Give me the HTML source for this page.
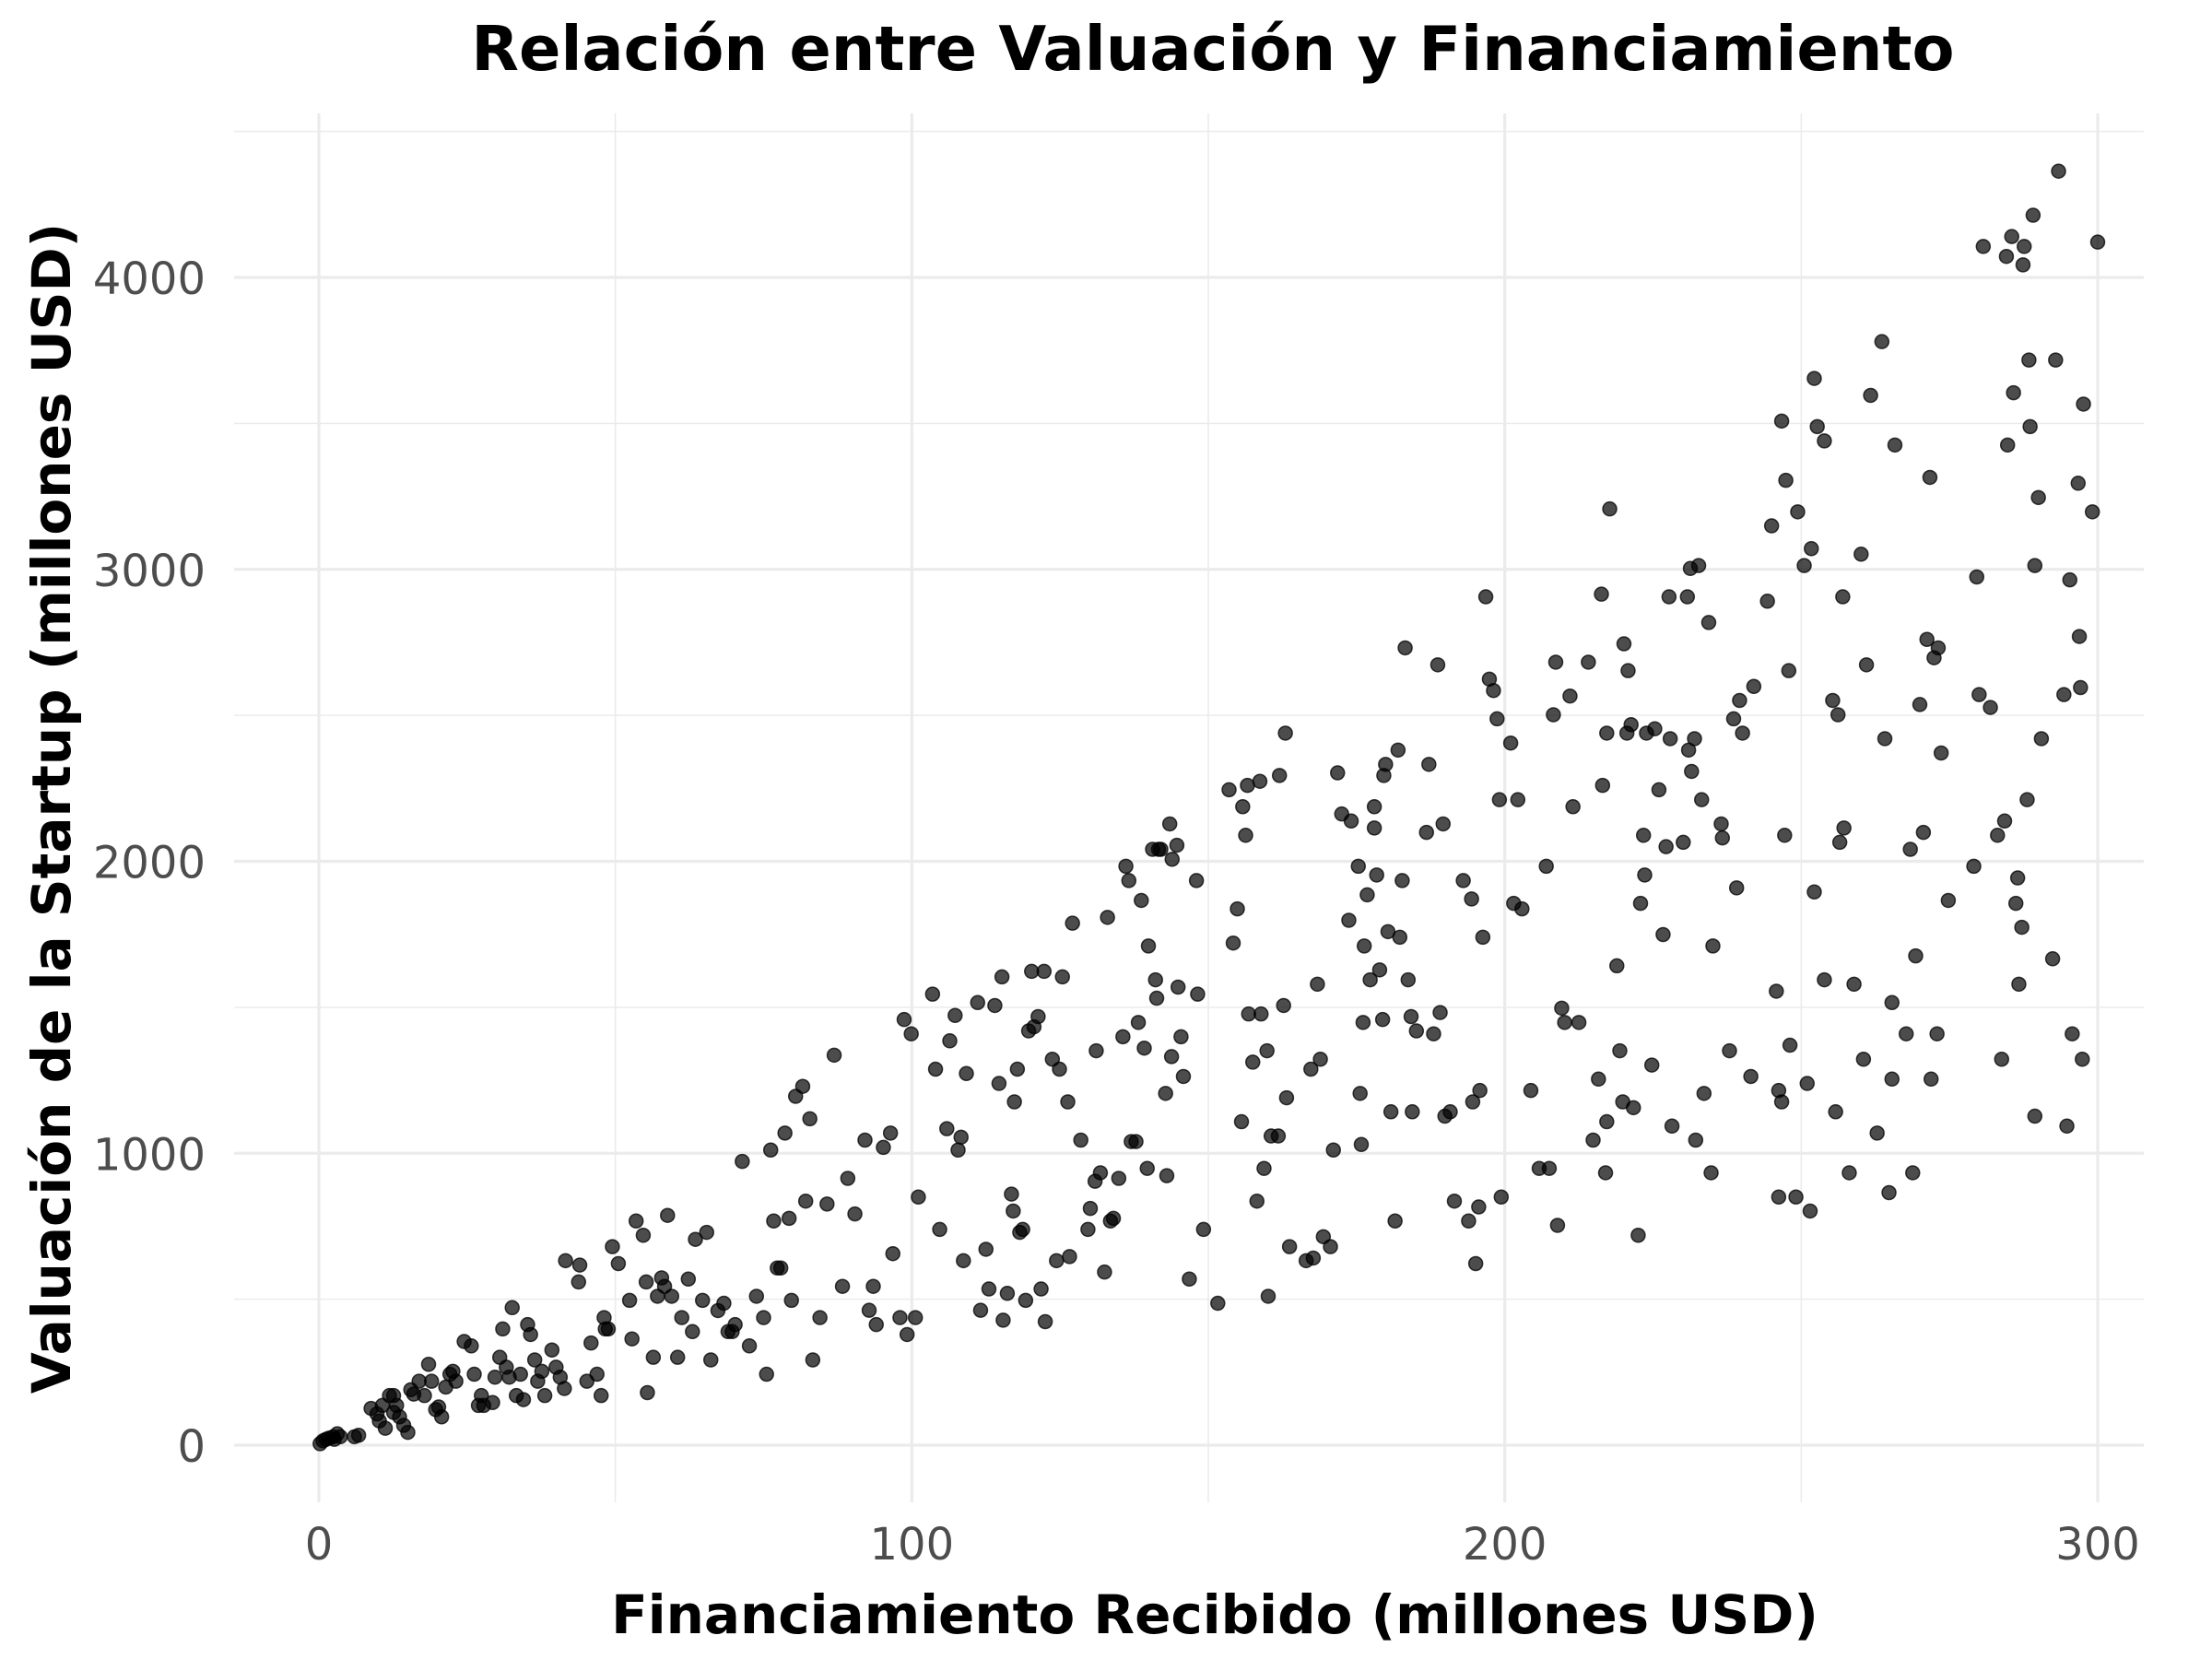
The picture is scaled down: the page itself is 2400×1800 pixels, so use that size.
<!DOCTYPE html>
<html><head><meta charset="utf-8"><style>
html,body{margin:0;padding:0;background:#fff;}
svg{display:block;font-family:"DejaVu Sans","Liberation Sans",sans-serif;}
</style></head><body>
<svg id="chart" width="2400" height="1800" viewBox="0 0 2400 1800" xmlns="http://www.w3.org/2000/svg">
<rect width="2400" height="1800" fill="#fff"/>
<g id="grid"></g>
<g id="points"></g>
<g id="ticks"></g>
<text x="1316" y="76" text-anchor="middle" font-size="67" font-weight="bold" fill="#000">Relación entre Valuación y Financiamiento</text>
<text x="1318" y="1772" text-anchor="middle" font-size="58" font-weight="bold" fill="#000">Financiamiento Recibido (millones USD)</text>
<text transform="translate(76,877) rotate(-90)" text-anchor="middle" font-size="58" font-weight="bold" fill="#000">Valuación de la Startup (millones USD)</text>
</svg>
<script>
const xTicks=[0,100,200,300];
const yTicks=[0,1000,2000,3000,4000];
const xTickLabels=["0","100","200","300"];
const yTickLabels=["0","1000","2000","3000","4000"];
const funding=[0.2,0.7,1.2,1.7,2.4,3.1,3.6,6,6.7,2.6,8.8,9.8,10.7,10.2,11.2,11.9,12.6,12.6,13.1,13.6,14.3,15.0,15.5,16.0,16.9,17.8,18.5,19.0,19.7,20.2,20.7,21.4,22.1,22.6,
23.1,24.5,25.7,26.2,26.9,27.4,27.8,29.3,29.7,30.5,31.0,31.6,32.1,32.6,33.3,34.0,34.5,35.2,35.7,36.4,36.9,37.6,38.1,39.3,40.0,40.7,41.4,
41.6,43.8,44.0,45.2,45.9,46.9,47.6,48.1,48.3,48.8,49.5,50.5,52.4,52.8,53.5,54.7,55.2,55.4,56.4,57.1,57.8,58.3,58.8,59.5,60.5,61.2,
62.3,63.0,63.5,64.7,65.4,66.1,67.3,68.3,69.0,69.7,70.2,71.4,72.6,73.8,75.0,75.5,76.2,76.7,77.3,77.9,78.6,79.3,79.7,
80.4,81.6,82.1,82.8,83.3,84.5,85.7,86.9,88.3,89.2,90.4,92.1,92.8,93.5,94.0,95.2,96.4,96.8,98.0,98.7,99.2,99.9,100.6,101.1,
103.5,104,104.7,105.9,106.4,107.3,107.8,108.3,108.7,109.2,111.1,111.6,112.5,113.0,114.0,114.7,115.2,115.4,116.1,116.8,117.1,117.3,117.8,
118.2,118.7,119.2,119.7,120.2,120.6,121.3,121.8,122.3,122.5,123.7,124.4,124.9,125.4,126.3,126.6,127.1,128.5,129.7,130.1,130.9,131.1,131.8,132.5,133.0,133.5,134.0,134.9,135.6,136.1,136.6,
137.0,137.8,138.2,138.7,139.2,139.7,139.9,140.6,141.1,141.3,141.6,142.0,142.8,143.0,143.5,143.8,143.9,144.7,144.9,145.4,145.8,146.8,148.0,148.2,149.2,151.6,153.5,154.2,154.9,155.6,155.8,156.3,156.6,156.8,157.5,158.2,158.7,158.9,159.4,159.9,160.1,160.6,161.8,
162.0,162.7,163.0,163.2,163.7,166.5,167.3,167.7,168.4,168.9,169.4,170.6,171.1,171.8,172.5,173.7,174.1,175.3,175.6,175.8,176.1,176.3,176.8,177.3,178.0,178.0,178.4,178.9,179.4,179.6,179.9,180.3,180.8,181.5,182.0,182.3,182.7,183.2,183.7,184.2,184.4,185.1,186.8,187.2,188.0,188.7,189.1,189.6,189.9,190.8,191.5,
193.0,193.9,194.4,194.6,195.1,195.6,195.8,196.3,196.8,197.4,198.1,198.7,199.1,199.4,201.0,201.5,202.2,202.9,204.4,205.8,207.0,207.5,208.2,208.6,208.9,209.6,210.1,211.0,211.5,212.5,214.1,214.9,215.8,216.3,216.5,217.0,217.2,217.2,217.7,
218.9,219.4,219.9,220.1,220.6,220.8,221.3,221.7,222.5,222.9,223.4,223.6,223.9,224.8,225.3,226.0,226.7,227.2,227.7,227.9,228.2,230.1,230.8,231.0,231.3,231.5,232.0,232.2,232.7,233.2,233.6,234.4,234.8,235.1,236.5,236.7,237.9,238.6,239.1,239.6,240.1,241.5,242.0,
244.3,245.0,245.8,246.2,246.2,246.7,246.7,247.2,247.4,247.9,248.1,249.1,249.4,250.5,251.0,251.5,251.7,252.2,252.2,252.7,253.9,253.9,255.3,255.8,256.2,256.5,257.0,257.2,258.1,258.9,260.1,260.5,261.0,261.7,262.8,263.6,264.1,264.8,265.3,265.3,265.8,
267.7,268.4,268.8,269.3,270.0,270.6,271.2,271.7,271.9,272.4,272.9,273.1,273.6,274.8,279.1,279.6,280.0,280.7,281.9,283.1,283.8,284.3,284.6,284.8,285.5,285.8,286.2,286.5,286.7,287.2,287.4,287.6,288.1,288.4,288.6,289.1,289.4,289.4,290.0,290.5,292.4,292.9,293.4,294.3,294.8,295.3,295.7,296.7,296.9,297.1,297.4,297.6,299.1,300.0];
const valuation=[5,15,20,24,29,39,29,29,34,20,126,107,136,83,58,170,170,112,136,97,68,44,190,175,219,170,277,219,122,131,97,199,243,253,
219,355,340,243,136,170,136,146,233,301,398,267,233,471,170,243,156,413,379,292,219,253,170,326,267,233,194,
632,559,617,219,350,243,170,437,398,398,680,622,496,364,768,719,559,180,301,510,573,544,787,510,301,437,
569,389,705,496,729,292,461,486,389,389,413,972,340,510,437,243,1011,768,607,607,1069,777,496,
1195,1229,836,1118,292,437,826,1336,544,914,792,1045,462,544,413,1020,1069,656,437,1458,379,1409,437,850,
1545,1288,739,1084,1385,1472,1011,1055,632,1273,1516,462,671,535,1506,1239,1604,428,520,860,802,1176,1288,
729,739,496,1419,1623,1433,1468,535,1623,423,1322,632,1288,1604,1176,646,1788,1045,739,811,904,1351,933,593,1808,768,777,914,1399,1983,1934,
1040,1040,1448,1866,1360,948,1710,2041,1594,1531,2041,2041,1205,923,2128,1331,2007,2055,1569,1399,1263,569,1934,1545,739,486,2245,1720,1837,1108,2187,2089,2260,1477,1312,836,2274,1477,948,1351,510,1059,1059,
2294,1506,2439,1190,680,632,1288,641,1579,1322,714,680,1011,2303,2162,1798,2138,1983,1205,1030,1448,1710,1885,1594,2114,2187,1953,1628,1458,2294,2332,1759,1142,768,2381,1740,1934,2731,1594,1468,1142,1419,2099,2332,1409,2673,1482,2128,1127,1142,836,
1934,768,1871,1176,622,816,1215,1740,2906,2624,2585,2488,2211,850,2405,1856,2211,1837,1215,948,1983,948,2502,2682,753,1497,1448,2566,2187,1448,2682,1045,1254,2915,2260,933,2439,1108,3207,
1642,1351,1176,2745,2439,2653,2468,1156,719,1856,2089,1953,2439,1302,2454,2245,1749,2050,2906,2420,1093,2065,2906,2381,3003,2308,2420,1045,3013,2211,1205,2818,933,1710,2128,2080,1351,2488,1909,2551,2439,1263,2599,
2891,3149,1555,1215,850,1176,3508,2089,3305,2653,1370,850,3197,3013,1239,802,3071,3654,1895,3489,3440,1594,2551,1142,2502,2065,2906,2114,933,1579,3052,1322,2673,3596,1069,3780,2420,865,1516,1254,3426,
1409,2041,933,1676,2537,2099,2760,3315,1254,2697,1409,2731,2371,1866,1983,2974,2571,4106,2527,2089,1322,2138,4072,3426,4140,3605,1856,1943,1579,1774,4043,4106,2211,3717,3489,4213,3013,1127,3246,2420,1666,3717,4364,2571,1093,2964,1409,3295,2770,2595,1322,3566,3197,4121];

const NS="http://www.w3.org/2000/svg";
const plotLeft=254, plotRight=2326, plotTop=123, plotBottom=1630;
function sx(v){return 346+(v-0)*(2276-346)/300;}
function sy(v){return 1568+(v-0)*(301-1568)/4000;}
const grid=document.getElementById('grid');
function line(x1,y1,x2,y2,w,name){
  const l=document.createElementNS(NS,'line');
  l.setAttribute('x1',x1);l.setAttribute('y1',y1);l.setAttribute('x2',x2);l.setAttribute('y2',y2);
  l.setAttribute('stroke','#ebebeb');l.setAttribute('stroke-width',w);
  
  
  grid.appendChild(l);
}
for(let v=50;v<=350;v+=100){const x=sx(v);if(x>plotLeft&&x<plotRight)line(x,plotTop,x,plotBottom,1.6,'minor-gridline-x');}
for(let v=-500;v<=4500;v+=1000){const y=sy(v);if(y>plotTop-1&&y<plotBottom)line(plotLeft,y,plotRight,y,1.6,'minor-gridline-y');}
xTicks.forEach(v=>line(sx(v),plotTop,sx(v),plotBottom,3.2,'major-gridline-x'));
yTicks.forEach(v=>line(plotLeft,sy(v),plotRight,sy(v),3.2,'major-gridline-y'));
const ticks=document.getElementById('ticks');
xTicks.forEach((v,i)=>{
  const t=document.createElementNS(NS,'text');
  t.setAttribute('x',sx(v));t.setAttribute('y',1692);t.setAttribute('text-anchor','middle');
  t.setAttribute('font-size','48');t.setAttribute('fill','#4d4d4d');
  t.textContent=xTickLabels[i];
  
  
  ticks.appendChild(t);
});
yTicks.forEach((v,i)=>{
  const t=document.createElementNS(NS,'text');
  t.setAttribute('x',223);t.setAttribute('y',sy(v)+18);t.setAttribute('text-anchor','end');
  t.setAttribute('font-size','48');t.setAttribute('fill','#4d4d4d');
  t.textContent=yTickLabels[i];
  
  
  ticks.appendChild(t);
});
const pts=document.getElementById('points');
funding.forEach((f,i)=>{
  const c=document.createElementNS(NS,'circle');
  c.setAttribute('cx',sx(f));c.setAttribute('cy',sy(valuation[i]));c.setAttribute('r',7.5);
  c.setAttribute('fill','rgba(0,0,0,0.7)');c.setAttribute('stroke','rgba(0,0,0,0.75)');c.setAttribute('stroke-width',1.5);
  
  
  pts.appendChild(c);
});
</script>
</body></html>
